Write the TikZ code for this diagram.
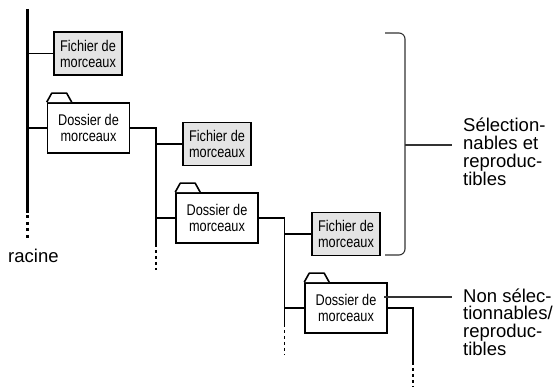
\documentclass[tikz,border=0pt]{standalone}
\usepackage{fontspec}
\setmainfont{Liberation Sans}
\newfontfamily\boxfont[FakeStretch=0.82]{Liberation Sans}
\usetikzlibrary{calc}
\definecolor{boxgray}{HTML}{E4E4E4}
\definecolor{bracegray}{HTML}{333333}
\begin{document}
\begin{tikzpicture}[x=1pt,y=-1pt,
  filebox/.style={draw, line width=1.6pt, fill=boxgray, minimum width=68pt,
    minimum height=43pt, inner sep=0pt, align=center,
    font=\boxfont\fontsize{15.5}{16}\selectfont},
  folderbox/.style={draw, line width=1.6pt, fill=white, minimum width=82pt,
    minimum height=50pt, inner sep=0pt, align=center,
    font=\boxfont\fontsize{15.5}{16}\selectfont},
  foldertab/.style={draw, line width=1.6pt, fill=white, line join=round},
  link/.style={line width=1.2pt},
  dotlink/.style={line width=1.2pt, dash pattern=on 3pt off 3pt},
  rootline/.style={line width=3pt},
  rootdots/.style={line width=3pt, dash pattern=on 3pt off 3.5pt},
  bracket/.style={line width=1.1pt, draw=bracegray, rounded corners=6pt},
  label/.style={inner sep=0pt, align=left, anchor=base west,
    font=\fontsize{18.5}{18}\selectfont}]
\useasboundingbox (0,0) rectangle (560,387);

% root of the tree
\coordinate (rtop) at (27,9);
\coordinate (rbot) at (27,213);
\coordinate (rend) at (27,240);
\draw[rootline] (rtop) -- (rbot);
\draw[rootdots] ([yshift=4pt]rbot) -- (rend);
\node[inner sep=0pt, anchor=base west, font=\fontsize{18.5}{18}\selectfont]
  (racine) at (8,263) {racine};

% level 1
\node[filebox] (f1) at (88,53.5) {Fichier de\\morceaux};
\node[folderbox] (d1) at (88.5,128) {Dossier de\\morceaux};
\draw[link] (rtop |- f1.west) -- (f1.west);
\draw[link] (rtop |- d1.west) -- (d1.west);

% level 2
\coordinate (t1) at (156,247);
\coordinate (t1e) at (156,270);
\node[filebox] (f2) at (217,144) {Fichier de\\morceaux};
\node[folderbox] (d2) at (217,218) {Dossier de\\morceaux};
\draw[link] (d1.east) -| (t1);
\draw[dotlink] ([yshift=3pt]t1) -- (t1e);
\draw[link] (t1 |- f2.west) -- (f2.west);
\draw[link] (t1 |- d2.west) -- (d2.west);

% level 3
\coordinate (t2) at (284.5,327);
\coordinate (t2e) at (284.5,355);
\node[filebox] (f3) at (346,234) {Fichier de\\morceaux};
\node[folderbox] (d3) at (346,308) {Dossier de\\morceaux};
\draw[link] (d2.east) -| (t2);
\draw[dotlink] ([yshift=3pt]t2) -- (t2e);
\draw[link] (t2 |- f3.west) -- (f3.west);
\draw[link] (t2 |- d3.west) -- (d3.west);

% level 4 (continues below)
\coordinate (t3) at (413,365);
\coordinate (t3e) at (413,387);
\draw[link] (d3.east) -| (t3);
\draw[dotlink] ([yshift=3pt]t3) -- (t3e);

% folder tabs
\foreach \d in {d1,d2,d3}{
  \draw[foldertab] (\d.north west) -- ++(5,-9) -- ++(15,0) -- ++(5,9);
}

% bracket over the selectable items
\coordinate (btop) at (385,33);
\coordinate (bbot) at (385,255);
\coordinate (bmid) at (405,145);
\draw[bracket] (btop) -- (405,33) -- (405,255) -- (bbot);
% the base anchor of a multi-line label sits on its last line
\node[label] (lab1) at (463,186) {Sélection-\\nables et\\reproduc-\\tibles};
\draw[line width=1.1pt, draw=bracegray] (bmid) -- ([xshift=-11pt]lab1.west |- bmid);

% pointer to the non-selectable folder
\coordinate (ns) at (384,297);
\node[label] (lab2) at (463,356) {Non sélec-\\tionnables/\\reproduc-\\tibles};
\draw[line width=1.1pt, draw=bracegray] (ns) -- ([xshift=-11pt]lab2.west |- ns);
\end{tikzpicture}
\end{document}
